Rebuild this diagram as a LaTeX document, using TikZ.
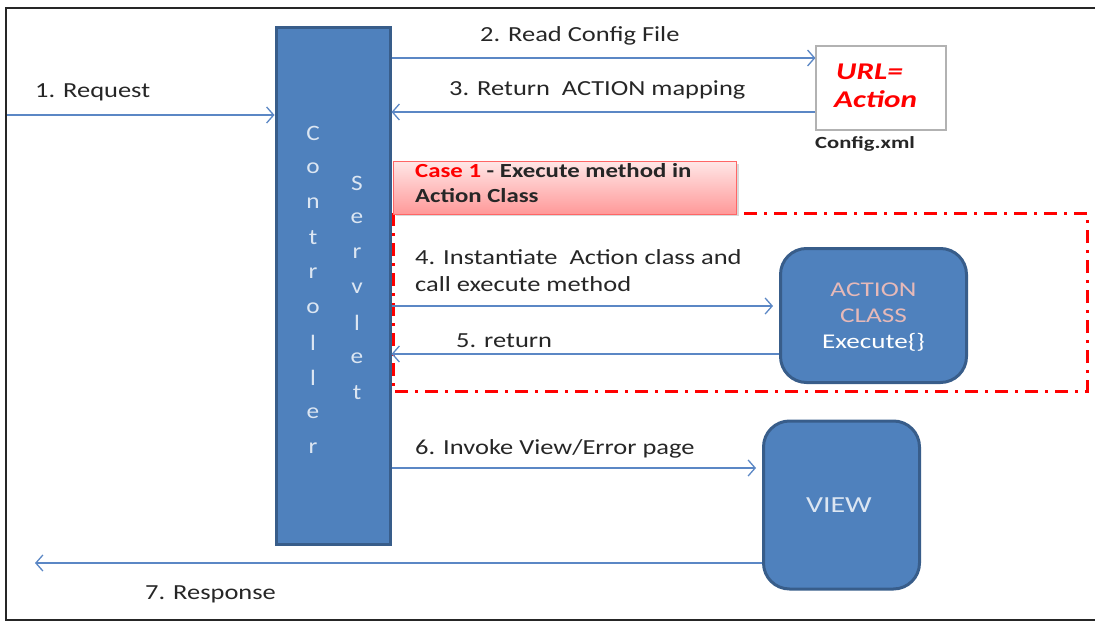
\documentclass[tikz,border=0pt]{standalone}
\usepackage{fontspec}
\usepackage{graphicx}
\setmainfont{Carlito}
\usetikzlibrary{arrows.meta,shadows}
\definecolor{boxblue}{HTML}{4F81BD}
\definecolor{boxedge}{HTML}{385D8A}
\definecolor{arrblue}{HTML}{5B87C5}
\definecolor{lettercol}{HTML}{DCE6F2}
\definecolor{actpink}{HTML}{E6B9B8}
\definecolor{dashred}{HTML}{FF0000}
\newcommand{\wx}[2][1.23]{\scalebox{#1}[1]{#2}}
\tikzset{
  arr/.style={draw=arrblue, line width=1.3pt, -{Straight Barb[length=7pt,width=16pt,line width=1.3pt]}},
  bluebox/.style={draw=boxedge, fill=boxblue, line width=3pt},
  lbl/.style={font=\fontsize{21.5}{24}\selectfont, text=black!85, inner sep=0pt},
  letter/.style={font=\fontsize{22}{24}\selectfont, text=lettercol, inner sep=0pt},
}
\begin{document}
\begin{tikzpicture}[x=1pt,y=-1pt]
\useasboundingbox (0,0) rectangle (1095,623);
% outer frame
\draw[line width=2pt, black!85] (1096,8) -- (6,8) -- (6,620) -- (1096,620);
% controller
\node[bluebox, minimum width=114pt, minimum height=516pt, inner sep=0pt] (ctl) at (333,286) {};
\foreach \ch [count=\i] in {C,o,n,t,r,o,l,l,e,r}
  \node[letter] (c\i) at (313,{98+35*\i}) {\wx[1.15]{\ch}};
\foreach \ch [count=\i] in {S,e,r,v,l,e,t}
  \node[letter] (s\i) at (357,{148+35*\i}) {\wx[1.15]{\ch}};
% config box
\node[draw=black!30, line width=1.2pt, fill=white, minimum width=130pt, minimum height=84pt] (cfg) at (881,88) {};
\node[font=\fontsize{24}{26}\selectfont\bfseries\itshape, text=red, anchor=west, inner sep=0pt] (url) at (836,72) {\wx[1.3]{URL=}};
\node[font=\fontsize{24}{26}\selectfont\bfseries\itshape, text=red, anchor=west, inner sep=0pt] (act) at (834,99) {\wx[1.3]{Action}};
\node[font=\fontsize{17}{18}\selectfont\bfseries, text=black!85, anchor=west, inner sep=0pt] (cfgx) at (815,144) {\wx[1.33]{Config.xml}};
% dash-dot region
\draw[dashred, line width=3pt, dash pattern=on 13pt off 7pt on 3pt off 7pt] (393,213) rectangle (1087,391);
% case box
\node[draw=red!60, line width=1pt, top color=red!10, bottom color=red!40, minimum width=343pt, minimum height=52pt, drop shadow={opacity=0.3, shadow xshift=2pt, shadow yshift=-2pt}] (case) at (565,188) {};
\node[font=\fontsize{20}{25}\selectfont\bfseries, anchor=north west, inner sep=0pt, align=left, text=black!85] (casetxt) at (415,163) {\wx[1.24]{\textcolor{red}{Case 1} - Execute method in}\\\wx[1.24]{Action Class}};
% action class
\node[bluebox, rounded corners=26pt, minimum width=186pt, minimum height=134pt] (actbox) at (873.5,315.5) {};
\node[font=\fontsize{21}{22}\selectfont, text=actpink, inner sep=0pt] (acttxt1) at (873.5,290) {\wx[1.3]{ACTION}};
\node[font=\fontsize{21}{22}\selectfont, text=actpink, inner sep=0pt] (acttxt2) at (873.5,316) {\wx[1.3]{CLASS}};
\node[font=\fontsize{21}{22}\selectfont, text=white, inner sep=0pt] (acttxt3) at (873.5,342) {\wx[1.29]{Execute\{\}}};
% view
\node[bluebox, rounded corners=26pt, minimum width=156pt, minimum height=168pt] (view) at (841.5,505) {};
\node[font=\fontsize{23}{24}\selectfont, text=lettercol, inner sep=0pt] (viewtxt) at (839,505) {\wx[1.3]{VIEW}};
% arrows
\coordinate (reqstart) at (7,115);
\coordinate (y2) at (0,58);
\coordinate (y3) at (0,112);
\coordinate (y4) at (0,306);
\coordinate (y5) at (0,354);
\coordinate (y6) at (0,468);
\coordinate (respend) at (35,563);
\draw[arr] (reqstart) -- (ctl.west |- reqstart);
\draw[arr] (ctl.east |- y2) -- (cfg.west |- y2);
\draw[arr] (cfg.west |- y3) -- (ctl.east |- y3);
\draw[arr, shorten >=6pt] (ctl.east |- y4) -- (actbox.west |- y4);
\draw[arr] (actbox.west |- y5) -- (ctl.east |- y5);
\draw[arr, shorten >=6pt] (ctl.east |- y6) -- (view.west |- y6);
\draw[arr] (view.west |- respend) -- (respend);
% labels
\node[lbl, anchor=west] (l1) at (35,92) {\wx{1. Request}};
\node[lbl, anchor=west] (l2) at (480,36) {\wx{2. Read Config File}};
\node[lbl, anchor=west] (l3) at (449,90) {\wx{3. Return\ \ ACTION mapping}};
\node[lbl, anchor=north west, align=left, font=\fontsize{21.5}{27}\selectfont] (l4) at (415,249) {\wx{4. Instantiate\ \ Action class and}\\\wx{call execute method}};
\node[lbl, anchor=west] (l5) at (456,341) {\wx{5. return}};
\node[lbl, anchor=west] (l6) at (415,449) {\wx{6. Invoke View/Error page}};
\node[lbl, anchor=west] (l7) at (145,594) {\wx{7. Response}};
\end{tikzpicture}
\end{document}
